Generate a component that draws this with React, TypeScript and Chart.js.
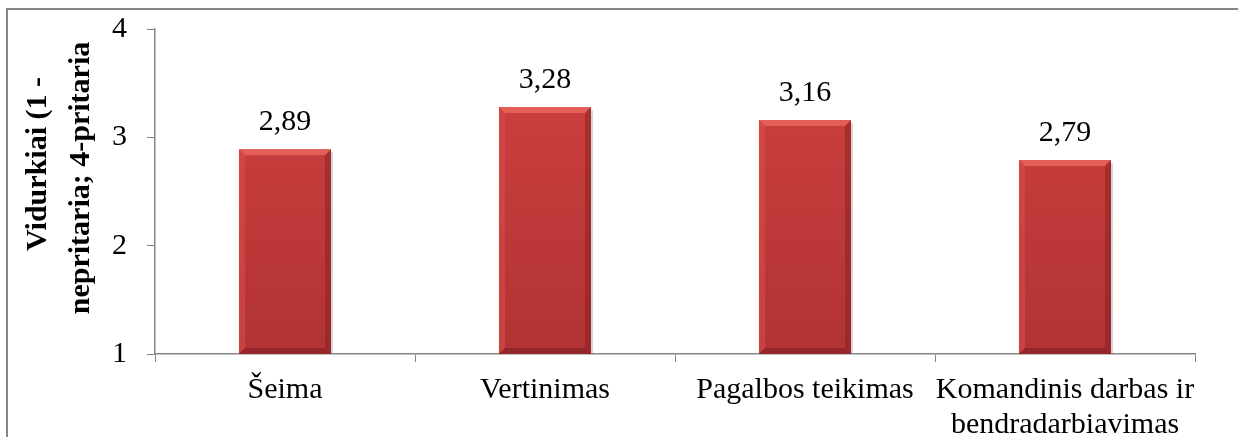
import React, { useEffect, useRef } from "react";
import { Chart, registerables } from "chart.js";

Chart.register(...registerables);

const categories: string[][] = [
  ["Šeima"],
  ["Vertinimas"],
  ["Pagalbos teikimas"],
  ["Komandinis darbas ir", "bendradarbiavimas"],
];
const values: number[] = [2.89, 3.28, 3.16, 2.79];
const valueLabels: string[] = ["2,89", "3,28", "3,16", "2,79"];
const yTickValues: number[] = [1, 2, 3, 4];
const yTitleLines: string[] = ["Vidurkiai (1 -", "nepritaria; 4-pritaria"];

const FONT = '"Liberation Serif", "Times New Roman", serif';
const AXIS_GRAY = "#868686";

// Frame lines along the top and left edges of the figure
const framePlugin = {
  id: "frame",
  beforeDraw(chart: any) {
    const ctx = chart.ctx;
    ctx.save();
    ctx.strokeStyle = AXIS_GRAY;
    ctx.lineWidth = 2;
    ctx.beginPath();
    ctx.moveTo(7, chart.height);
    ctx.lineTo(7, 9);
    ctx.lineTo(chart.width, 9);
    ctx.stroke();
    ctx.restore();
  },
};

// Bevelled edges on each bar, using the bar geometry computed by the scales
const bevelPlugin = {
  id: "bevel",
  afterDatasetsDraw(chart: any) {
    const ctx = chart.ctx;
    const meta = chart.getDatasetMeta(0);
    const b = 6;
    meta.data.forEach((bar: any) => {
      const x = bar.x;
      const width = bar.width;
      const l = x - width / 2;
      const r = x + width / 2;
      const t = bar.y;
      const btm = Math.min(bar.base, chart.chartArea.bottom);
      ctx.save();
      // top
      ctx.fillStyle = "rgba(238,110,100,0.7)";
      ctx.beginPath();
      ctx.moveTo(l, t);
      ctx.lineTo(r, t);
      ctx.lineTo(r - b, t + b);
      ctx.lineTo(l + b, t + b);
      ctx.closePath();
      ctx.fill();
      // left
      ctx.fillStyle = "rgba(220,80,76,0.5)";
      ctx.beginPath();
      ctx.moveTo(l, t);
      ctx.lineTo(l + b, t + b);
      ctx.lineTo(l + b, btm - b);
      ctx.lineTo(l, btm);
      ctx.closePath();
      ctx.fill();
      // right
      ctx.fillStyle = "rgba(120,25,28,0.4)";
      ctx.beginPath();
      ctx.moveTo(r, t);
      ctx.lineTo(r, btm);
      ctx.lineTo(r - b, btm - b);
      ctx.lineTo(r - b, t + b);
      ctx.closePath();
      ctx.fill();
      // bottom
      ctx.fillStyle = "rgba(110,20,24,0.45)";
      ctx.beginPath();
      ctx.moveTo(l, btm);
      ctx.lineTo(r, btm);
      ctx.lineTo(r - b, btm - b);
      ctx.lineTo(l + b, btm - b);
      ctx.closePath();
      ctx.fill();
      // soft shadow on the right side
      ctx.fillStyle = "rgba(120,120,120,0.3)";
      ctx.fillRect(r, t + 3, 2, btm - t - 3);
      ctx.restore();
    });
  },
};

// Value labels above the bars
const valueLabelPlugin = {
  id: "valueLabels",
  afterDatasetsDraw(chart: any) {
    const ctx = chart.ctx;
    const meta = chart.getDatasetMeta(0);
    ctx.save();
    ctx.font = `30px ${FONT}`;
    ctx.fillStyle = "#000";
    ctx.textAlign = "center";
    ctx.textBaseline = "alphabetic";
    meta.data.forEach((bar: any, i: number) => {
      ctx.fillText(valueLabels[i], bar.x, bar.y - 19);
    });
    ctx.restore();
  },
};

// Two-line rotated title of the value axis
const yTitlePlugin = {
  id: "yTitle",
  afterDraw(chart: any) {
    const ctx = chart.ctx;
    ctx.save();
    ctx.font = `bold 30px ${FONT}`;
    ctx.fillStyle = "#000";
    ctx.textAlign = "center";
    ctx.textBaseline = "middle";
    const pos = [
      [38, 164],
      [81, 178],
    ];
    yTitleLines.forEach((line, i) => {
      ctx.save();
      ctx.translate(pos[i][0], pos[i][1]);
      ctx.rotate(-Math.PI / 2);
      ctx.fillText(line, 0, 0);
      ctx.restore();
    });
    ctx.restore();
  },
};

export default function App() {
  const canvasRef = useRef<HTMLCanvasElement | null>(null);

  useEffect(() => {
    const canvas = canvasRef.current;
    if (!canvas) return;
    const chart = new Chart(canvas, {
      type: "bar",
      data: {
        labels: categories,
        datasets: [
          {
            data: values,
            backgroundColor: (c: any) => {
              const area = c.chart.chartArea;
              if (!area) return "#C0393B";
              const g = c.chart.ctx.createLinearGradient(0, area.top, 0, area.bottom);
              g.addColorStop(0, "#D0423F");
              g.addColorStop(1, "#B23335");
              return g;
            },
            borderWidth: 0,
            categoryPercentage: 1,
            barPercentage: 0.354,
          },
        ],
      },
      options: {
        responsive: false,
        animation: false,
        layout: { padding: { left: 0, top: 29, right: 43, bottom: 0 } },
        plugins: {
          legend: { display: false },
          tooltip: { enabled: false },
        },
        scales: {
          x: {
            offset: true,
            grid: {
              offset: true,
              drawOnChartArea: false,
              drawTicks: true,
              tickLength: 8,
              color: AXIS_GRAY,
            },
            border: { color: AXIS_GRAY, width: 1.5 },
            ticks: {
              color: "#000",
              padding: 11,
              maxRotation: 0,
              autoSkip: false,
              font: { family: FONT, size: 30, lineHeight: 35 / 30 },
            },
            afterFit: (s: any) => {
              s.height = 83;
              s.paddingLeft = 0;
              s.paddingRight = 0;
            },
          },
          y: {
            min: 1,
            max: 4,
            afterBuildTicks: (s: any) => {
              s.ticks = yTickValues.map((v) => ({ value: v }));
            },
            grid: {
              drawOnChartArea: false,
              drawTicks: true,
              tickLength: 8,
              color: AXIS_GRAY,
            },
            border: { color: AXIS_GRAY, width: 1.5 },
            ticks: {
              color: "#000",
              padding: 20,
              font: { family: FONT, size: 30 },
            },
            afterFit: (s: any) => {
              s.width = 155;
              s.paddingTop = 0;
              s.paddingBottom = 0;
            },
          },
        },
      },
      plugins: [framePlugin, bevelPlugin, valueLabelPlugin, yTitlePlugin],
    } as any);
    return () => chart.destroy();
  }, []);

  return (
    <div style={{ position: "absolute", left: 0, top: 0, width: 1238, height: 437, background: "#fff" }}>
      <canvas ref={canvasRef} width={1238} height={437} style={{ display: "block" }} />
    </div>
  );
}
